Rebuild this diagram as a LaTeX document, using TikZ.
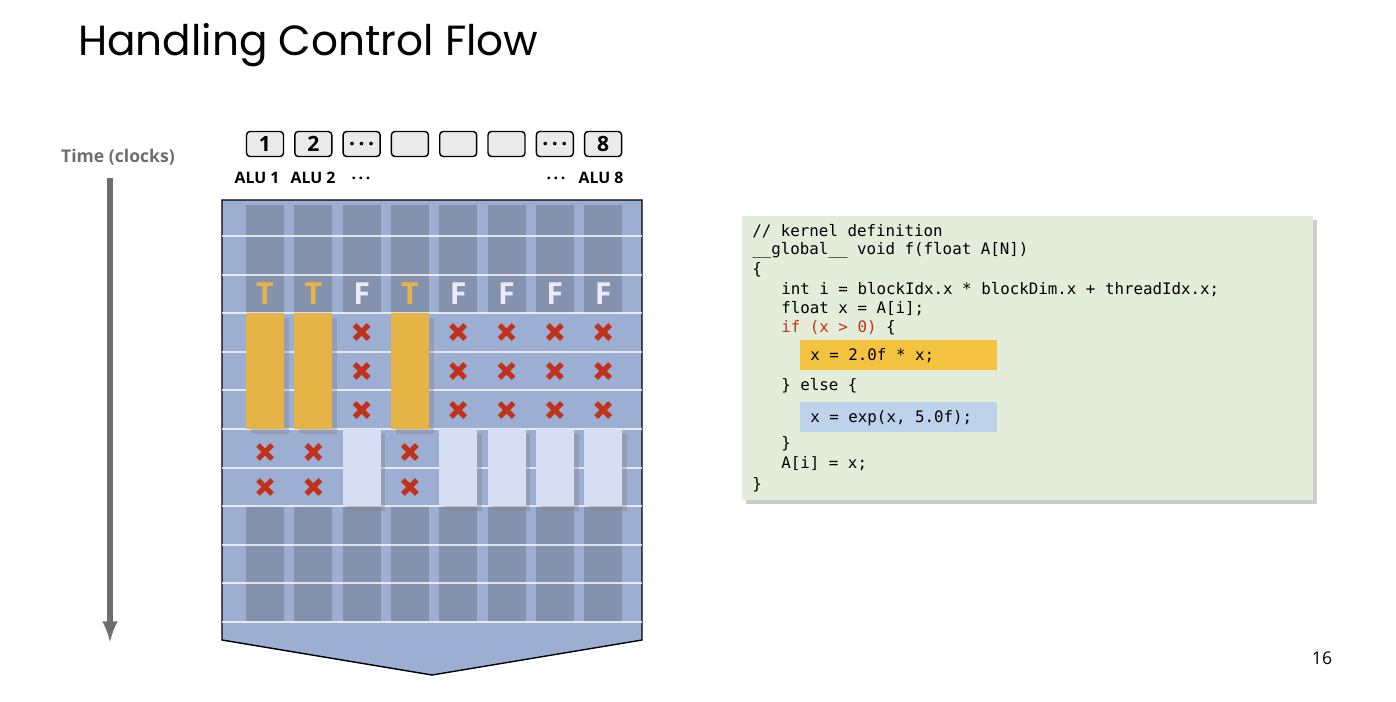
\documentclass[tikz,border=0pt]{standalone}
\usepackage{fontspec}
\setmainfont{Open Sans}
\setmonofont{DejaVu Sans Mono}
\newfontfamily\titlefont{Poppins}
\usetikzlibrary{positioning,shadows}
\definecolor{panelblue}{HTML}{9DAED3}
\definecolor{darkcell}{HTML}{8592AE}
\definecolor{lightcell}{HTML}{D6DEF4}
\definecolor{goldbar}{HTML}{E6B446}
\definecolor{xred}{HTML}{C0321C}
\definecolor{codegreen}{HTML}{E4EDDA}
\definecolor{hlyellow}{HTML}{F3C33F}
\definecolor{hlblue}{HTML}{BDD3EC}
\definecolor{timegray}{HTML}{6E6E6E}

\tikzset{
  alubox/.style={draw=black, thick, rounded corners=2pt, fill=black!8, minimum width=0.74cm, minimum height=0.5cm, font=\bfseries\large, inner sep=0pt},
  alulbl/.style={font=\bfseries\small, inner sep=0pt},
  cond/.style={font=\bfseries\LARGE, inner sep=0pt},
  codeline/.style={anchor=west, font=\ttfamily\fontsize{9}{10}\selectfont, inner sep=0pt}
}
\newcommand{\redx}[2]{%
  \draw[xred, line width=3pt] (#1-7,#2-7) -- (#1+7,#2+7) (#1-7,#2+7) -- (#1+7,#2-7);}

\begin{document}
\begin{tikzpicture}[x=0.02cm, y=-0.02cm]
				\useasboundingbox (0,0) rectangle (1396,702);

				\node[anchor=west, font=\titlefont\fontsize{24}{28}\selectfont] (title) at (72,45) {Handling Control Flow};
				\node[font=\fontsize{10}{12}\selectfont] (pagenum) at (1322,658) {16};

				% time axis
				\node[font=\bfseries\fontsize{10}{12}\selectfont, text=timegray] (lblTime) at (118,157) {Time (clocks)};
				\coordinate (tStart) at (110,178);
				\coordinate (tEnd) at (110,642);
				\draw[timegray, line width=3pt, -latex] (tStart) -- (tEnd);

				% panel
				\draw[thick, fill=panelblue] (222,200) -- (642,200) -- (642,640) -- (432,675) -- (222,640) -- cycle;

				\foreach \i in {0,...,7} {
					\pgfmathsetmacro{\cx}{265+48.3*\i}
					\fill[darkcell] (\cx-19,205) rectangle (\cx+19,313);
					\fill[darkcell] (\cx-19,506) rectangle (\cx+19,622);
				}

				% rows
				\foreach \k in {1,...,11}
					\draw[white, opacity=0.75, line width=1.2pt] (222,197.4+38.6*\k) -- (642,197.4+38.6*\k);

				% true lanes
				\foreach \i in {0,1,3} {
					\pgfmathsetmacro{\cx}{265+48.3*\i}
					\node[cond, text=goldbar] (c\i) at (\cx,294) {T};
					\fill[goldbar, drop shadow={opacity=0.35}] (\cx-19,313) rectangle (\cx+19,429);
					\redx{\cx}{452}
					\redx{\cx}{487}
				}
				% false lanes
				\foreach \i in {2,4,5,6,7} {
					\pgfmathsetmacro{\cx}{265+48.3*\i}
					\node[cond, text=white!92!blue] (c\i) at (\cx,294) {F};
					\redx{\cx}{332}
					\redx{\cx}{371}
					\redx{\cx}{410}
					\fill[lightcell, drop shadow={opacity=0.35}] (\cx-19,429) rectangle (\cx+19,506);
				}

				% ALUs
				\foreach \i/\t in {0/1,1/2,2/\textbf{.\,.\,.},3/,4/,5/,6/\textbf{.\,.\,.},7/8} {
					\pgfmathsetmacro{\cx}{265+48.3*\i}
					\node[alubox] (alu\i) at (\cx,144) {\t};
				}
				\node[alulbl] (lblAlu1) at (257,178) {ALU 1};
				\node[alulbl] (lblAlu2) at (313,178) {ALU 2};
				\node[alulbl] (lblDotsL) at (361,178) {.\,.\,.};
				\node[alulbl] (lblDotsR) at (556,178) {.\,.\,.};
				\node[alulbl] (lblAlu8) at (601,178) {ALU 8};

				% code
				\fill[codegreen, drop shadow={opacity=0.4, shadow xshift=2pt, shadow yshift=-2pt}] (742,216) rectangle (1313,500);
				\fill[hlyellow] (800,340) rectangle (997,370);
				\fill[hlblue] (800,402) rectangle (997,432);
				\node[codeline] (l1) at (752,231) {// kernel definition};
				\node[codeline] (l2) at (752,250) {\_\_global\_\_ void f(float A[N])};
				\node[codeline] (l3) at (752,270) {\{};
				\node[codeline] (l4) at (781,290) {int i = blockIdx.x * blockDim.x + threadIdx.x;};
				\node[codeline] (l5) at (781,309) {float x = A[i];};
				\node[codeline] (l6) at (781,328) {\textcolor{xred}{if (x > 0)} \{};
				\node[codeline] (l7) at (810,356) {x = 2.0f * x;};
				\node[codeline] (l8) at (781,386) {\} else \{};
				\node[codeline] (l9) at (810,418) {x = exp(x, 5.0f);};
				\node[codeline] (l10) at (781,444) {\}};
				\node[codeline] (l11) at (781,464) {A[i] = x;};
				\node[codeline] (l12) at (752,485) {\}};

			\end{tikzpicture}
\end{document}
